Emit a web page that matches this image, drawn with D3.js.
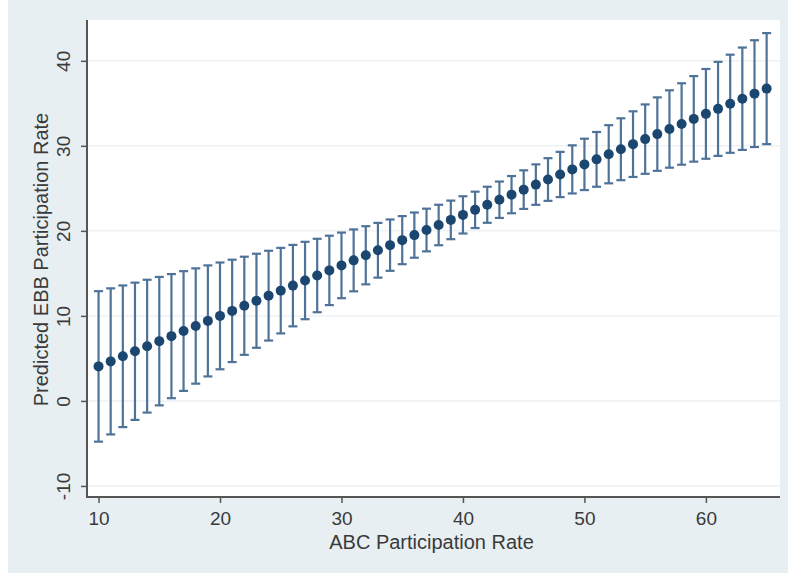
<!DOCTYPE html>
<html>

<head>
    <meta charset="utf-8">
    <script src="https://d3js.org/d3.v7.min.js"></script>
    <style>
        body {
            margin: 0;
            background: #ffffff;
            font-family: 'Liberation Sans', Arial, sans-serif;
        }
    </style>
    <title>Predicted EBB Participation Rate</title>
</head>

<body>
    <svg id="chart" width="788" height="574"></svg>

    <script>
        // ABC participation rate (x) and predicted EBB rate with 95% CI
        var abcRate = [10, 11, 12, 13, 14, 15, 16, 17, 18, 19, 20, 21, 22, 23, 24, 25, 26, 27, 28, 29,
            30, 31, 32, 33, 34, 35, 36, 37, 38, 39, 40, 41, 42, 43, 44, 45, 46, 47, 48, 49,
            50, 51, 52, 53, 54, 55, 56, 57, 58, 59, 60, 61, 62, 63, 64, 65];
        var predicted = [4.06, 4.65, 5.25, 5.84, 6.44, 7.03, 7.62, 8.22, 8.81, 9.41,
            10.00, 10.59, 11.19, 11.78, 12.38, 12.97, 13.56, 14.16, 14.75, 15.35,
            15.94, 16.53, 17.13, 17.72, 18.32, 18.91, 19.50, 20.10, 20.69, 21.29,
            21.88, 22.47, 23.07, 23.66, 24.26, 24.85, 25.44, 26.04, 26.63, 27.23,
            27.82, 28.41, 29.01, 29.60, 30.20, 30.79, 31.38, 31.98, 32.57, 33.17,
            33.76, 34.35, 34.95, 35.54, 36.14, 36.73];
        var lower = [-4.79, -3.94, -3.08, -2.23, -1.37, -0.52, 0.32, 1.18, 2.03, 2.88,
            3.72, 4.57, 5.42, 6.25, 7.10, 7.94, 8.77, 9.61, 10.43, 11.27,
            12.08, 12.89, 13.71, 14.50, 15.30, 16.08, 16.84, 17.59, 18.31, 19.02,
            19.69, 20.33, 20.95, 21.52, 22.07, 22.58, 23.06, 23.53, 23.97, 24.40,
            24.80, 25.19, 25.59, 25.96, 26.34, 26.71, 27.06, 27.43, 27.78, 28.14,
            28.48, 28.82, 29.18, 29.52, 29.86, 30.20];
        var upper = [12.91, 13.24, 13.58, 13.91, 14.25, 14.58, 14.92, 15.26, 15.59, 15.94,
            16.28, 16.61, 16.96, 17.31, 17.66, 18.00, 18.35, 18.71, 19.07, 19.43,
            19.80, 20.17, 20.55, 20.94, 21.34, 21.74, 22.16, 22.61, 23.07, 23.56,
            24.07, 24.61, 25.19, 25.80, 26.45, 27.12, 27.82, 28.55, 29.29, 30.06,
            30.84, 31.63, 32.43, 33.24, 34.06, 34.87, 35.70, 36.53, 37.36, 38.20,
            39.04, 39.88, 40.72, 41.56, 42.42, 43.26];
        var xTicks = [10, 20, 30, 40, 50, 60];
        var yTicks = [-10, 0, 10, 20, 30, 40];

        var rows = abcRate.map(function (x, i) {
            return { x: x, y: predicted[i], lo: lower[i], hi: upper[i] };
        });

        var svg = d3.select("#chart");

        // outer graph region
        svg.append("rect")
            .attr("x", 8)
            .attr("y", 0)
            .attr("width", 780)
            .attr("height", 573)
            .style("fill", "#e8eff2");

        var plot = { left: 87, top: 20, right: 780, bottom: 497 };

        svg.append("rect")
            .attr("x", plot.left)
            .attr("y", plot.top)
            .attr("width", plot.right - plot.left)
            .attr("height", plot.bottom - plot.top)
            .style("fill", "#ffffff");

        var xScale = d3.scaleLinear()
            .domain([9.05, 66.1])
            .range([plot.left, plot.right]);
        var yScale = d3.scaleLinear()
            .domain([-11.3, 44.8])
            .range([plot.bottom, plot.top]);

        // horizontal grid
        svg.append("g")
            .selectAll("line")
            .data(yTicks)
            .enter()
            .append("line")
            .attr("x1", plot.left)
            .attr("x2", plot.right)
            .attr("y1", function (d) { return yScale(d); })
            .attr("y2", function (d) { return yScale(d); })
            .style("stroke", "#edf2f5")
            .style("stroke-width", "1.5px");

        // error bars
        var bars = svg.append("g")
            .selectAll("g")
            .data(rows)
            .enter()
            .append("g")
            .style("stroke", "#4f7398")
            .style("stroke-width", "2.2px");

        bars.append("line")
            .attr("x1", function (d) { return xScale(d.x); })
            .attr("x2", function (d) { return xScale(d.x); })
            .attr("y1", function (d) { return yScale(d.lo); })
            .attr("y2", function (d) { return yScale(d.hi); });

        bars.append("line")
            .attr("x1", function (d) { return xScale(d.x) - 4.5; })
            .attr("x2", function (d) { return xScale(d.x) + 4.5; })
            .attr("y1", function (d) { return yScale(d.hi); })
            .attr("y2", function (d) { return yScale(d.hi); });

        bars.append("line")
            .attr("x1", function (d) { return xScale(d.x) - 4.5; })
            .attr("x2", function (d) { return xScale(d.x) + 4.5; })
            .attr("y1", function (d) { return yScale(d.lo); })
            .attr("y2", function (d) { return yScale(d.lo); });

        // predicted points
        svg.append("g")
            .selectAll("circle")
            .data(rows)
            .enter()
            .append("circle")
            .attr("cx", function (d) { return xScale(d.x); })
            .attr("cy", function (d) { return yScale(d.y); })
            .attr("r", 5)
            .style("fill", "#1a466f");

        // axes
        var plain = function (d) { return String(d); };
        var xAxis = d3.axisBottom(xScale)
            .tickValues(xTicks)
            .tickFormat(plain)
            .tickSize(6)
            .tickSizeOuter(0)
            .tickPadding(9);
        var yAxis = d3.axisLeft(yScale)
            .tickValues(yTicks)
            .tickFormat(plain)
            .tickSize(6)
            .tickSizeOuter(0);

        var gx = svg.append("g")
            .attr("transform", "translate(0," + plot.bottom + ")")
            .call(xAxis);
        gx.select(".domain").attr("d", "M" + (plot.left - 1) + ",0H" + plot.right);

        var gy = svg.append("g")
            .attr("transform", "translate(" + plot.left + ",0)")
            .call(yAxis);
        gy.select(".domain").attr("d", "M0," + plot.top + "V" + (plot.bottom + 1));

        svg.selectAll(".domain")
            .style("stroke", "#555555")
            .style("stroke-width", "2px");
        svg.selectAll(".tick line")
            .style("stroke", "#555555")
            .style("stroke-width", "1.5px");
        svg.selectAll(".tick text")
            .style("font-family", "'Liberation Sans', Arial, sans-serif")
            .style("font-size", "19px")
            .style("fill", "#3a3a3a");

        // rotate y tick labels like Stata
        gy.selectAll(".tick text")
            .attr("x", null)
            .attr("dy", null)
            .attr("text-anchor", "middle")
            .attr("transform", "translate(-17,0) rotate(-90)");

        svg.append("text")
            .attr("transform", "translate(48," + ((plot.top + plot.bottom) / 2 + 1) + ") rotate(-90)")
            .attr("text-anchor", "middle")
            .style("font-size", "20px")
            .style("fill", "#3a3a3a")
            .text("Predicted EBB Participation Rate");

        svg.append("text")
            .attr("x", (plot.left + plot.right) / 2 - 2)
            .attr("y", 549)
            .attr("text-anchor", "middle")
            .style("font-size", "20px")
            .style("fill", "#3a3a3a")
            .text("ABC Participation Rate");
    </script>
</body>

</html>
